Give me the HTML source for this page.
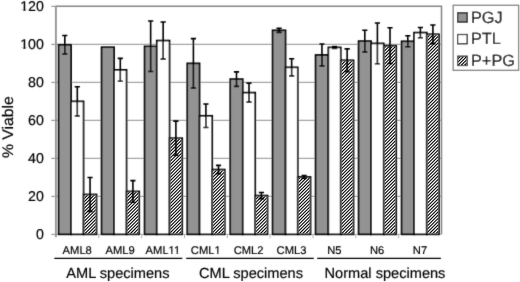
<!DOCTYPE html>
<html><head><meta charset="utf-8"><style>
html,body{margin:0;padding:0;background:#fff;}
body{width:520px;height:282px;overflow:hidden;}
svg{display:block;filter:grayscale(1);text-rendering:geometricPrecision;}
</style></head><body>
<svg width="520" height="282" viewBox="0 0 520 282"><filter id="bl" x="0" y="0" width="520" height="282" filterUnits="userSpaceOnUse"><feConvolveMatrix order="3" kernelMatrix="0.01832 0.13534 0.01832 0.13534 1.00000 0.13534 0.01832 0.13534 0.01832" divisor="1.61460" edgeMode="duplicate"/></filter><rect width="520" height="282" fill="#fff"/><g filter="url(#bl)"><line x1="56" y1="196.35" x2="441.5" y2="196.35" stroke="#a6a6a6" stroke-width="1.3"/><line x1="56" y1="158.35" x2="441.5" y2="158.35" stroke="#a6a6a6" stroke-width="1.3"/><line x1="56" y1="120.35" x2="441.5" y2="120.35" stroke="#a6a6a6" stroke-width="1.3"/><line x1="56" y1="82.35" x2="441.5" y2="82.35" stroke="#a6a6a6" stroke-width="1.3"/><line x1="56" y1="44.35" x2="441.5" y2="44.35" stroke="#a6a6a6" stroke-width="1.3"/><path d="M56 6.35H441.5V234.35" stroke="#858585" stroke-width="1.5" fill="none"/><line x1="56" y1="234.35" x2="441.5" y2="234.35" stroke="#a6a6a6" stroke-width="1"/><line x1="51.3" y1="234.35" x2="56" y2="234.35" stroke="#868686" stroke-width="1"/><line x1="51.3" y1="196.35" x2="56" y2="196.35" stroke="#868686" stroke-width="1"/><line x1="51.3" y1="158.35" x2="56" y2="158.35" stroke="#868686" stroke-width="1"/><line x1="51.3" y1="120.35" x2="56" y2="120.35" stroke="#868686" stroke-width="1"/><line x1="51.3" y1="82.35" x2="56" y2="82.35" stroke="#868686" stroke-width="1"/><line x1="51.3" y1="44.35" x2="56" y2="44.35" stroke="#868686" stroke-width="1"/><line x1="51.3" y1="6.35" x2="56" y2="6.35" stroke="#868686" stroke-width="1"/><line x1="55.9" y1="5.85" x2="55.9" y2="237.2" stroke="#959595" stroke-width="1.9"/><rect x="58.55" y="44.73" width="12.50" height="189.62" fill="#939393" stroke="#000" stroke-width="1.7"/><rect x="71.05" y="101.35" width="12.50" height="133.00" fill="#fff" stroke="#000" stroke-width="1.7"/><rect x="83.55" y="194.45" width="13.00" height="39.90" fill="#fff" stroke="#000" stroke-width="1.7"/><rect x="101.55" y="47.20" width="12.50" height="187.15" fill="#939393" stroke="#000" stroke-width="1.7"/><rect x="114.05" y="69.81" width="12.50" height="164.54" fill="#fff" stroke="#000" stroke-width="1.7"/><rect x="126.55" y="191.41" width="12.70" height="42.94" fill="#fff" stroke="#000" stroke-width="1.7"/><rect x="144.55" y="46.25" width="12.20" height="188.10" fill="#939393" stroke="#000" stroke-width="1.7"/><rect x="156.75" y="40.55" width="12.80" height="193.80" fill="#fff" stroke="#000" stroke-width="1.7"/><rect x="169.55" y="138.21" width="12.70" height="96.14" fill="#fff" stroke="#000" stroke-width="1.7"/><rect x="187.25" y="63.35" width="12.30" height="171.00" fill="#939393" stroke="#000" stroke-width="1.7"/><rect x="199.55" y="115.79" width="12.70" height="118.56" fill="#fff" stroke="#000" stroke-width="1.7"/><rect x="212.25" y="169.56" width="12.50" height="64.79" fill="#fff" stroke="#000" stroke-width="1.7"/><rect x="230.25" y="79.12" width="12.50" height="155.23" fill="#939393" stroke="#000" stroke-width="1.7"/><rect x="242.75" y="92.61" width="12.50" height="141.74" fill="#fff" stroke="#000" stroke-width="1.7"/><rect x="255.25" y="195.59" width="12.30" height="38.76" fill="#fff" stroke="#000" stroke-width="1.7"/><rect x="272.55" y="30.29" width="13.00" height="204.06" fill="#939393" stroke="#000" stroke-width="1.7"/><rect x="285.55" y="67.34" width="12.20" height="167.01" fill="#fff" stroke="#000" stroke-width="1.7"/><rect x="297.75" y="176.97" width="12.80" height="57.38" fill="#fff" stroke="#000" stroke-width="1.7"/><rect x="315.55" y="54.99" width="12.80" height="179.36" fill="#939393" stroke="#000" stroke-width="1.7"/><rect x="328.35" y="47.39" width="12.40" height="186.96" fill="#fff" stroke="#000" stroke-width="1.7"/><rect x="340.75" y="60.31" width="12.80" height="174.04" fill="#fff" stroke="#000" stroke-width="1.7"/><rect x="358.55" y="41.12" width="12.50" height="193.23" fill="#939393" stroke="#000" stroke-width="1.7"/><rect x="371.05" y="43.40" width="12.70" height="190.95" fill="#fff" stroke="#000" stroke-width="1.7"/><rect x="383.75" y="45.68" width="12.50" height="188.67" fill="#fff" stroke="#000" stroke-width="1.7"/><rect x="401.55" y="41.31" width="12.50" height="193.04" fill="#939393" stroke="#000" stroke-width="1.7"/><rect x="414.05" y="32.57" width="12.70" height="201.78" fill="#fff" stroke="#000" stroke-width="1.7"/><rect x="426.75" y="34.28" width="12.30" height="200.07" fill="#fff" stroke="#000" stroke-width="1.7"/><line x1="98.83" y1="234.35" x2="98.83" y2="238.2" stroke="#b0b0b0" stroke-width="1"/><line x1="141.66" y1="234.35" x2="141.66" y2="238.2" stroke="#b0b0b0" stroke-width="1"/><line x1="184.49" y1="234.35" x2="184.49" y2="238.2" stroke="#b0b0b0" stroke-width="1"/><line x1="227.32" y1="234.35" x2="227.32" y2="238.2" stroke="#b0b0b0" stroke-width="1"/><line x1="270.15" y1="234.35" x2="270.15" y2="238.2" stroke="#b0b0b0" stroke-width="1"/><line x1="312.98" y1="234.35" x2="312.98" y2="238.2" stroke="#b0b0b0" stroke-width="1"/><line x1="355.81" y1="234.35" x2="355.81" y2="238.2" stroke="#b0b0b0" stroke-width="1"/><line x1="398.64" y1="234.35" x2="398.64" y2="238.2" stroke="#b0b0b0" stroke-width="1"/><path d="M64.80 35.52V53.94M62.20 35.52H67.40M62.20 53.94H67.40" stroke="#000" stroke-width="1.6" fill="none"/><path d="M77.30 86.72V115.98M74.70 86.72H79.90M74.70 115.98H79.90" stroke="#000" stroke-width="1.6" fill="none"/><path d="M120.30 58.41V81.21M117.70 58.41H122.90M117.70 81.21H122.90" stroke="#000" stroke-width="1.6" fill="none"/><path d="M150.65 20.98V71.52M148.05 20.98H153.25M148.05 71.52H153.25" stroke="#000" stroke-width="1.6" fill="none"/><path d="M163.15 21.93V59.17M160.55 21.93H165.75M160.55 59.17H165.75" stroke="#000" stroke-width="1.6" fill="none"/><path d="M193.40 38.65V88.05M190.80 38.65H196.00M190.80 88.05H196.00" stroke="#000" stroke-width="1.6" fill="none"/><path d="M205.90 104.01V127.57M203.30 104.01H208.50M203.30 127.57H208.50" stroke="#000" stroke-width="1.6" fill="none"/><path d="M236.50 71.90V86.34M233.90 71.90H239.10M233.90 86.34H239.10" stroke="#000" stroke-width="1.6" fill="none"/><path d="M249.00 83.11V102.11M246.40 83.11H251.60M246.40 102.11H251.60" stroke="#000" stroke-width="1.6" fill="none"/><path d="M279.05 28.20V32.38M276.45 28.20H281.65M276.45 32.38H281.65" stroke="#000" stroke-width="1.6" fill="none"/><path d="M291.65 58.79V75.89M289.05 58.79H294.25M289.05 75.89H294.25" stroke="#000" stroke-width="1.6" fill="none"/><path d="M321.95 43.97V66.01M319.35 43.97H324.55M319.35 66.01H324.55" stroke="#000" stroke-width="1.6" fill="none"/><path d="M334.55 46.44V48.34M331.95 46.44H337.15M331.95 48.34H337.15" stroke="#000" stroke-width="1.6" fill="none"/><path d="M364.80 30.29V51.95M362.20 30.29H367.40M362.20 51.95H367.40" stroke="#000" stroke-width="1.6" fill="none"/><path d="M377.40 23.07V63.73M374.80 23.07H380.00M374.80 63.73H380.00" stroke="#000" stroke-width="1.6" fill="none"/><path d="M407.80 35.80V46.82M405.20 35.80H410.40M405.20 46.82H410.40" stroke="#000" stroke-width="1.6" fill="none"/><path d="M420.40 27.44V37.70M417.80 27.44H423.00M417.80 37.70H423.00" stroke="#000" stroke-width="1.6" fill="none"/><text transform="translate(43.900,239.350)" font-family='"Liberation Sans", sans-serif' font-size="14.2" text-anchor="end" fill="#000" stroke="#000" stroke-width="0.18">0</text><text transform="translate(43.900,201.350)" font-family='"Liberation Sans", sans-serif' font-size="14.2" text-anchor="end" fill="#000" stroke="#000" stroke-width="0.18">20</text><text transform="translate(43.900,163.350)" font-family='"Liberation Sans", sans-serif' font-size="14.2" text-anchor="end" fill="#000" stroke="#000" stroke-width="0.18">40</text><text transform="translate(43.900,125.350)" font-family='"Liberation Sans", sans-serif' font-size="14.2" text-anchor="end" fill="#000" stroke="#000" stroke-width="0.18">60</text><text transform="translate(43.900,87.350)" font-family='"Liberation Sans", sans-serif' font-size="14.2" text-anchor="end" fill="#000" stroke="#000" stroke-width="0.18">80</text><text transform="translate(43.900,49.350)" font-family='"Liberation Sans", sans-serif' font-size="14.2" text-anchor="end" fill="#000" stroke="#000" stroke-width="0.18">100</text><g transform="translate(43.900,49.350)"><rect x="-23.37" y="-1.51" width="2.85" height="2.11" fill="#fff"/><rect x="-18.43" y="-1.51" width="2.74" height="2.11" fill="#fff"/></g><text transform="translate(43.900,11.350)" font-family='"Liberation Sans", sans-serif' font-size="14.2" text-anchor="end" fill="#000" stroke="#000" stroke-width="0.18">120</text><g transform="translate(43.900,11.350)"><rect x="-23.37" y="-1.51" width="2.85" height="2.11" fill="#fff"/><rect x="-18.43" y="-1.51" width="2.74" height="2.11" fill="#fff"/></g><text transform="translate(12.800,127.100) rotate(-90) scale(1.0300,1.0000)" font-family='"Liberation Sans", sans-serif' font-size="15.3" text-anchor="middle" fill="#000" stroke="#000" stroke-width="0.18">% Viable</text><text transform="translate(77.225,254.200)" font-family='"Liberation Sans", sans-serif' font-size="11.2" text-anchor="middle" fill="#000" stroke="#000" stroke-width="0.18">AML8</text><text transform="translate(120.075,254.200)" font-family='"Liberation Sans", sans-serif' font-size="11.2" text-anchor="middle" fill="#000" stroke="#000" stroke-width="0.18">AML9</text><text transform="translate(162.925,254.200)" font-family='"Liberation Sans", sans-serif' font-size="11.2" text-anchor="middle" fill="#000" stroke="#000" stroke-width="0.18">AML11</text><g transform="translate(162.925,254.200)"><rect x="5.80" y="-1.29" width="2.30" height="1.89" fill="#fff"/><rect x="9.90" y="-1.29" width="2.21" height="1.89" fill="#fff"/><rect x="11.19" y="-1.29" width="2.30" height="1.89" fill="#fff"/><rect x="15.29" y="-1.29" width="2.21" height="1.89" fill="#fff"/></g><text transform="translate(205.775,254.200)" font-family='"Liberation Sans", sans-serif' font-size="11.2" text-anchor="middle" fill="#000" stroke="#000" stroke-width="0.18">CML1</text><g transform="translate(205.775,254.200)"><rect x="8.80" y="-1.29" width="2.30" height="1.89" fill="#fff"/><rect x="12.90" y="-1.29" width="2.21" height="1.89" fill="#fff"/></g><text transform="translate(248.625,254.200)" font-family='"Liberation Sans", sans-serif' font-size="11.2" text-anchor="middle" fill="#000" stroke="#000" stroke-width="0.18">CML2</text><text transform="translate(291.475,254.200)" font-family='"Liberation Sans", sans-serif' font-size="11.2" text-anchor="middle" fill="#000" stroke="#000" stroke-width="0.18">CML3</text><text transform="translate(334.325,254.200)" font-family='"Liberation Sans", sans-serif' font-size="11.2" text-anchor="middle" fill="#000" stroke="#000" stroke-width="0.18">N5</text><text transform="translate(377.175,254.200)" font-family='"Liberation Sans", sans-serif' font-size="11.2" text-anchor="middle" fill="#000" stroke="#000" stroke-width="0.18">N6</text><text transform="translate(420.025,254.200)" font-family='"Liberation Sans", sans-serif' font-size="11.2" text-anchor="middle" fill="#000" stroke="#000" stroke-width="0.18">N7</text><line x1="54.3" y1="258.4" x2="182.3" y2="258.4" stroke="#000" stroke-width="1.4"/><line x1="186.2" y1="258.4" x2="313.8" y2="258.4" stroke="#000" stroke-width="1.4"/><line x1="317.2" y1="258.4" x2="440.9" y2="258.4" stroke="#000" stroke-width="1.4"/><text transform="translate(117.900,278.000)" font-family='"Liberation Sans", sans-serif' font-size="14.6" text-anchor="middle" fill="#000" stroke="#000" stroke-width="0.18">AML specimens</text><text transform="translate(251.000,278.000)" font-family='"Liberation Sans", sans-serif' font-size="14.6" text-anchor="middle" fill="#000" stroke="#000" stroke-width="0.18">CML specimens</text><text transform="translate(385.000,278.000)" font-family='"Liberation Sans", sans-serif' font-size="14.6" text-anchor="middle" fill="#000" stroke="#000" stroke-width="0.18">Normal specimens</text><rect x="453.2" y="5.3" width="65.4" height="65" fill="#fff" stroke="#808080" stroke-width="1.3"/><rect x="457.60" y="12.80" width="9.6" height="9.3" fill="#939393" stroke="#000" stroke-width="1.2"/><text transform="translate(471.000,22.500) scale(1.0650,1.0650)" font-family='"Liberation Sans", sans-serif' font-size="15.3" text-anchor="start" fill="#000" stroke="#000" stroke-width="0.18">PGJ</text><rect x="457.60" y="34.50" width="9.6" height="9.3" fill="#fff" stroke="#000" stroke-width="1.2"/><text transform="translate(471.000,44.200) scale(1.0650,1.0650)" font-family='"Liberation Sans", sans-serif' font-size="15.3" text-anchor="start" fill="#000" stroke="#000" stroke-width="0.18">PTL</text><rect x="457.60" y="56.20" width="9.6" height="9.3" fill="#fff" stroke="#000" stroke-width="1.2"/><text transform="translate(471.000,65.900) scale(1.0650,1.0650)" font-family='"Liberation Sans", sans-serif' font-size="15.3" text-anchor="start" fill="#000" stroke="#000" stroke-width="0.18">P+PG</text></g><clipPath id="c1"><rect x="84.40" y="195.30" width="11.30" height="38.20"/></clipPath><g clip-path="url(#c1)"><path d="M86.20 193.30L44.00 235.50M89.45 193.30L47.25 235.50M92.70 193.30L50.50 235.50M95.95 193.30L53.75 235.50M99.20 193.30L57.00 235.50M102.45 193.30L60.25 235.50M105.70 193.30L63.50 235.50M108.95 193.30L66.75 235.50M112.20 193.30L70.00 235.50M115.45 193.30L73.25 235.50M118.70 193.30L76.50 235.50M121.95 193.30L79.75 235.50M125.20 193.30L83.00 235.50M128.45 193.30L86.25 235.50M131.70 193.30L89.50 235.50M134.95 193.30L92.75 235.50M138.20 193.30L96.00 235.50" stroke="#000" stroke-width="1.149" fill="none"/></g><clipPath id="c2"><rect x="127.40" y="192.26" width="11.00" height="41.24"/></clipPath><g clip-path="url(#c2)"><path d="M128.24 190.26L83.00 235.50M131.49 190.26L86.25 235.50M134.74 190.26L89.50 235.50M137.99 190.26L92.75 235.50M141.24 190.26L96.00 235.50M144.49 190.26L99.25 235.50M147.74 190.26L102.50 235.50M150.99 190.26L105.75 235.50M154.24 190.26L109.00 235.50M157.49 190.26L112.25 235.50M160.74 190.26L115.50 235.50M163.99 190.26L118.75 235.50M167.24 190.26L122.00 235.50M170.49 190.26L125.25 235.50M173.74 190.26L128.50 235.50M176.99 190.26L131.75 235.50M180.24 190.26L135.00 235.50M183.49 190.26L138.25 235.50" stroke="#000" stroke-width="1.149" fill="none"/></g><clipPath id="c3"><rect x="170.40" y="139.06" width="11.00" height="94.44"/></clipPath><g clip-path="url(#c3)"><path d="M171.69 137.06L73.25 235.50M174.94 137.06L76.50 235.50M178.19 137.06L79.75 235.50M181.44 137.06L83.00 235.50M184.69 137.06L86.25 235.50M187.94 137.06L89.50 235.50M191.19 137.06L92.75 235.50M194.44 137.06L96.00 235.50M197.69 137.06L99.25 235.50M200.94 137.06L102.50 235.50M204.19 137.06L105.75 235.50M207.44 137.06L109.00 235.50M210.69 137.06L112.25 235.50M213.94 137.06L115.50 235.50M217.19 137.06L118.75 235.50M220.44 137.06L122.00 235.50M223.69 137.06L125.25 235.50M226.94 137.06L128.50 235.50M230.19 137.06L131.75 235.50M233.44 137.06L135.00 235.50M236.69 137.06L138.25 235.50M239.94 137.06L141.50 235.50M243.19 137.06L144.75 235.50M246.44 137.06L148.00 235.50M249.69 137.06L151.25 235.50M252.94 137.06L154.50 235.50M256.19 137.06L157.75 235.50M259.44 137.06L161.00 235.50M262.69 137.06L164.25 235.50M265.94 137.06L167.50 235.50M269.19 137.06L170.75 235.50M272.44 137.06L174.00 235.50M275.69 137.06L177.25 235.50M278.94 137.06L180.50 235.50" stroke="#000" stroke-width="1.149" fill="none"/></g><clipPath id="c4"><rect x="213.10" y="170.41" width="10.80" height="63.09"/></clipPath><g clip-path="url(#c4)"><path d="M215.09 168.41L148.00 235.50M218.34 168.41L151.25 235.50M221.59 168.41L154.50 235.50M224.84 168.41L157.75 235.50M228.09 168.41L161.00 235.50M231.34 168.41L164.25 235.50M234.59 168.41L167.50 235.50M237.84 168.41L170.75 235.50M241.09 168.41L174.00 235.50M244.34 168.41L177.25 235.50M247.59 168.41L180.50 235.50M250.84 168.41L183.75 235.50M254.09 168.41L187.00 235.50M257.34 168.41L190.25 235.50M260.59 168.41L193.50 235.50M263.84 168.41L196.75 235.50M267.09 168.41L200.00 235.50M270.34 168.41L203.25 235.50M273.59 168.41L206.50 235.50M276.84 168.41L209.75 235.50M280.09 168.41L213.00 235.50M283.34 168.41L216.25 235.50M286.59 168.41L219.50 235.50M289.84 168.41L222.75 235.50" stroke="#000" stroke-width="1.149" fill="none"/></g><clipPath id="c5"><rect x="256.10" y="196.44" width="10.60" height="37.06"/></clipPath><g clip-path="url(#c5)"><path d="M257.31 194.44L216.25 235.50M260.56 194.44L219.50 235.50M263.81 194.44L222.75 235.50M267.06 194.44L226.00 235.50M270.31 194.44L229.25 235.50M273.56 194.44L232.50 235.50M276.81 194.44L235.75 235.50M280.06 194.44L239.00 235.50M283.31 194.44L242.25 235.50M286.56 194.44L245.50 235.50M289.81 194.44L248.75 235.50M293.06 194.44L252.00 235.50M296.31 194.44L255.25 235.50M299.56 194.44L258.50 235.50M302.81 194.44L261.75 235.50M306.06 194.44L265.00 235.50" stroke="#000" stroke-width="1.149" fill="none"/></g><clipPath id="c6"><rect x="298.60" y="177.82" width="11.10" height="55.68"/></clipPath><g clip-path="url(#c6)"><path d="M298.68 175.82L239.00 235.50M301.93 175.82L242.25 235.50M305.18 175.82L245.50 235.50M308.43 175.82L248.75 235.50M311.68 175.82L252.00 235.50M314.93 175.82L255.25 235.50M318.18 175.82L258.50 235.50M321.43 175.82L261.75 235.50M324.68 175.82L265.00 235.50M327.93 175.82L268.25 235.50M331.18 175.82L271.50 235.50M334.43 175.82L274.75 235.50M337.68 175.82L278.00 235.50M340.93 175.82L281.25 235.50M344.18 175.82L284.50 235.50M347.43 175.82L287.75 235.50M350.68 175.82L291.00 235.50M353.93 175.82L294.25 235.50M357.18 175.82L297.50 235.50M360.43 175.82L300.75 235.50M363.68 175.82L304.00 235.50M366.93 175.82L307.25 235.50M370.18 175.82L310.50 235.50" stroke="#000" stroke-width="1.149" fill="none"/></g><clipPath id="c7"><rect x="341.60" y="61.16" width="11.10" height="172.34"/></clipPath><g clip-path="url(#c7)"><path d="M340.59 59.16L164.25 235.50M343.84 59.16L167.50 235.50M347.09 59.16L170.75 235.50M350.34 59.16L174.00 235.50M353.59 59.16L177.25 235.50M356.84 59.16L180.50 235.50M360.09 59.16L183.75 235.50M363.34 59.16L187.00 235.50M366.59 59.16L190.25 235.50M369.84 59.16L193.50 235.50M373.09 59.16L196.75 235.50M376.34 59.16L200.00 235.50M379.59 59.16L203.25 235.50M382.84 59.16L206.50 235.50M386.09 59.16L209.75 235.50M389.34 59.16L213.00 235.50M392.59 59.16L216.25 235.50M395.84 59.16L219.50 235.50M399.09 59.16L222.75 235.50M402.34 59.16L226.00 235.50M405.59 59.16L229.25 235.50M408.84 59.16L232.50 235.50M412.09 59.16L235.75 235.50M415.34 59.16L239.00 235.50M418.59 59.16L242.25 235.50M421.84 59.16L245.50 235.50M425.09 59.16L248.75 235.50M428.34 59.16L252.00 235.50M431.59 59.16L255.25 235.50M434.84 59.16L258.50 235.50M438.09 59.16L261.75 235.50M441.34 59.16L265.00 235.50M444.59 59.16L268.25 235.50M447.84 59.16L271.50 235.50M451.09 59.16L274.75 235.50M454.34 59.16L278.00 235.50M457.59 59.16L281.25 235.50M460.84 59.16L284.50 235.50M464.09 59.16L287.75 235.50M467.34 59.16L291.00 235.50M470.59 59.16L294.25 235.50M473.84 59.16L297.50 235.50M477.09 59.16L300.75 235.50M480.34 59.16L304.00 235.50M483.59 59.16L307.25 235.50M486.84 59.16L310.50 235.50M490.09 59.16L313.75 235.50M493.34 59.16L317.00 235.50M496.59 59.16L320.25 235.50M499.84 59.16L323.50 235.50M503.09 59.16L326.75 235.50M506.34 59.16L330.00 235.50M509.59 59.16L333.25 235.50M512.84 59.16L336.50 235.50M516.09 59.16L339.75 235.50M519.34 59.16L343.00 235.50M522.59 59.16L346.25 235.50M525.84 59.16L349.50 235.50M529.09 59.16L352.75 235.50" stroke="#000" stroke-width="1.149" fill="none"/></g><clipPath id="c8"><rect x="384.60" y="46.53" width="10.80" height="186.97"/></clipPath><g clip-path="url(#c8)"><path d="M384.47 44.53L193.50 235.50M387.72 44.53L196.75 235.50M390.97 44.53L200.00 235.50M394.22 44.53L203.25 235.50M397.47 44.53L206.50 235.50M400.72 44.53L209.75 235.50M403.97 44.53L213.00 235.50M407.22 44.53L216.25 235.50M410.47 44.53L219.50 235.50M413.72 44.53L222.75 235.50M416.97 44.53L226.00 235.50M420.22 44.53L229.25 235.50M423.47 44.53L232.50 235.50M426.72 44.53L235.75 235.50M429.97 44.53L239.00 235.50M433.22 44.53L242.25 235.50M436.47 44.53L245.50 235.50M439.72 44.53L248.75 235.50M442.97 44.53L252.00 235.50M446.22 44.53L255.25 235.50M449.47 44.53L258.50 235.50M452.72 44.53L261.75 235.50M455.97 44.53L265.00 235.50M459.22 44.53L268.25 235.50M462.47 44.53L271.50 235.50M465.72 44.53L274.75 235.50M468.97 44.53L278.00 235.50M472.22 44.53L281.25 235.50M475.47 44.53L284.50 235.50M478.72 44.53L287.75 235.50M481.97 44.53L291.00 235.50M485.22 44.53L294.25 235.50M488.47 44.53L297.50 235.50M491.72 44.53L300.75 235.50M494.97 44.53L304.00 235.50M498.22 44.53L307.25 235.50M501.47 44.53L310.50 235.50M504.72 44.53L313.75 235.50M507.97 44.53L317.00 235.50M511.22 44.53L320.25 235.50M514.47 44.53L323.50 235.50M517.72 44.53L326.75 235.50M520.97 44.53L330.00 235.50M524.22 44.53L333.25 235.50M527.47 44.53L336.50 235.50M530.72 44.53L339.75 235.50M533.97 44.53L343.00 235.50M537.22 44.53L346.25 235.50M540.47 44.53L349.50 235.50M543.72 44.53L352.75 235.50M546.97 44.53L356.00 235.50M550.22 44.53L359.25 235.50M553.47 44.53L362.50 235.50M556.72 44.53L365.75 235.50M559.97 44.53L369.00 235.50M563.22 44.53L372.25 235.50M566.47 44.53L375.50 235.50M569.72 44.53L378.75 235.50M572.97 44.53L382.00 235.50M576.22 44.53L385.25 235.50M579.47 44.53L388.50 235.50M582.72 44.53L391.75 235.50M585.97 44.53L395.00 235.50" stroke="#000" stroke-width="1.149" fill="none"/></g><clipPath id="c9"><rect x="427.60" y="35.13" width="10.60" height="198.37"/></clipPath><g clip-path="url(#c9)"><path d="M428.37 33.13L226.00 235.50M431.62 33.13L229.25 235.50M434.87 33.13L232.50 235.50M438.12 33.13L235.75 235.50M441.37 33.13L239.00 235.50M444.62 33.13L242.25 235.50M447.87 33.13L245.50 235.50M451.12 33.13L248.75 235.50M454.37 33.13L252.00 235.50M457.62 33.13L255.25 235.50M460.87 33.13L258.50 235.50M464.12 33.13L261.75 235.50M467.37 33.13L265.00 235.50M470.62 33.13L268.25 235.50M473.87 33.13L271.50 235.50M477.12 33.13L274.75 235.50M480.37 33.13L278.00 235.50M483.62 33.13L281.25 235.50M486.87 33.13L284.50 235.50M490.12 33.13L287.75 235.50M493.37 33.13L291.00 235.50M496.62 33.13L294.25 235.50M499.87 33.13L297.50 235.50M503.12 33.13L300.75 235.50M506.37 33.13L304.00 235.50M509.62 33.13L307.25 235.50M512.87 33.13L310.50 235.50M516.12 33.13L313.75 235.50M519.37 33.13L317.00 235.50M522.62 33.13L320.25 235.50M525.87 33.13L323.50 235.50M529.12 33.13L326.75 235.50M532.37 33.13L330.00 235.50M535.62 33.13L333.25 235.50M538.87 33.13L336.50 235.50M542.12 33.13L339.75 235.50M545.37 33.13L343.00 235.50M548.62 33.13L346.25 235.50M551.87 33.13L349.50 235.50M555.12 33.13L352.75 235.50M558.37 33.13L356.00 235.50M561.62 33.13L359.25 235.50M564.87 33.13L362.50 235.50M568.12 33.13L365.75 235.50M571.37 33.13L369.00 235.50M574.62 33.13L372.25 235.50M577.87 33.13L375.50 235.50M581.12 33.13L378.75 235.50M584.37 33.13L382.00 235.50M587.62 33.13L385.25 235.50M590.87 33.13L388.50 235.50M594.12 33.13L391.75 235.50M597.37 33.13L395.00 235.50M600.62 33.13L398.25 235.50M603.87 33.13L401.50 235.50M607.12 33.13L404.75 235.50M610.37 33.13L408.00 235.50M613.62 33.13L411.25 235.50M616.87 33.13L414.50 235.50M620.12 33.13L417.75 235.50M623.37 33.13L421.00 235.50M626.62 33.13L424.25 235.50M629.87 33.13L427.50 235.50M633.12 33.13L430.75 235.50M636.37 33.13L434.00 235.50M639.62 33.13L437.25 235.50" stroke="#000" stroke-width="1.149" fill="none"/></g><clipPath id="c10"><rect x="458.20" y="56.80" width="8.40" height="8.10"/></clipPath><g clip-path="url(#c10)"><path d="M458.70 54.80L446.60 66.90M461.95 54.80L449.85 66.90M465.20 54.80L453.10 66.90M468.45 54.80L456.35 66.90M471.70 54.80L459.60 66.90M474.95 54.80L462.85 66.90M478.20 54.80L466.10 66.90" stroke="#000" stroke-width="1.149" fill="none"/></g><g filter="url(#bl)"><path d="M90.05 177.54V211.36M87.45 177.54H92.65M87.45 211.36H92.65" stroke="#000" stroke-width="1.6" fill="none"/><path d="M132.90 180.58V202.24M130.30 180.58H135.50M130.30 202.24H135.50" stroke="#000" stroke-width="1.6" fill="none"/><path d="M175.90 121.11V155.31M173.30 121.11H178.50M173.30 155.31H178.50" stroke="#000" stroke-width="1.6" fill="none"/><path d="M218.50 165.38V173.74M215.90 165.38H221.10M215.90 173.74H221.10" stroke="#000" stroke-width="1.6" fill="none"/><path d="M261.40 192.55V198.63M258.80 192.55H264.00M258.80 198.63H264.00" stroke="#000" stroke-width="1.6" fill="none"/><path d="M304.15 175.64V178.30M301.55 175.64H306.75M301.55 178.30H306.75" stroke="#000" stroke-width="1.6" fill="none"/><path d="M347.15 48.91V71.71M344.55 48.91H349.75M344.55 71.71H349.75" stroke="#000" stroke-width="1.6" fill="none"/><path d="M390.00 27.82V63.54M387.40 27.82H392.60M387.40 63.54H392.60" stroke="#000" stroke-width="1.6" fill="none"/><path d="M432.90 24.97V43.59M430.30 24.97H435.50M430.30 43.59H435.50" stroke="#000" stroke-width="1.6" fill="none"/></g></svg>
</body></html>
